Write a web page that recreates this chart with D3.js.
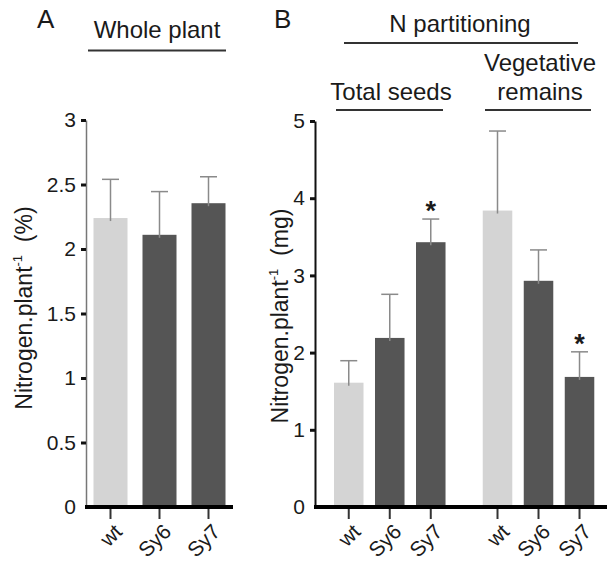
<!DOCTYPE html>
<html><head><meta charset="utf-8">
<script src="https://cdn.jsdelivr.net/npm/d3@7"></script>
<style>
body{margin:0;background:#fff;}
text{font-family:"Liberation Sans",Arial,sans-serif;fill:#1a1a1a;}
</style></head>
<body>
<svg id="chart" width="607" height="565"></svg>
<script>
// ---- data ----
const genotypes = ["wt", "Sy6", "Sy7"];
const wholePlantPct = [2.24, 2.11, 2.355];
const wholePlantErr = [0.30, 0.335, 0.205];
const partGroups = ["Total seeds", "Vegetative remains"];
const seedsMg = [1.61, 2.19, 3.43];
const seedsErr = [0.285, 0.565, 0.30];
const vegMg = [3.84, 2.93, 1.685];
const vegErr = [1.03, 0.40, 0.325];
const seedsSig = [false, false, true];
const vegSig = [false, false, true];
const ticksA = [0, 0.5, 1, 1.5, 2, 2.5, 3];
const ticksB = [0, 1, 2, 3, 4, 5];

const colors = {wt: "#d4d4d4", Sy6: "#555555", Sy7: "#555555"};
const svg = d3.select("#chart");

function drawAxes(g, x0, y, ticks, yAxisColor, yAxisWidth) {
  const ya = g.append("g").attr("transform", `translate(${x0},0)`)
    .call(d3.axisLeft(y).tickValues(ticks).tickSize(5).tickSizeOuter(0).tickPadding(5).tickFormat(d3.format("")));
  ya.attr("font-size", null).attr("font-family", null);
  ya.select(".domain").attr("stroke", yAxisColor).attr("stroke-width", yAxisWidth);
  ya.selectAll(".tick line").attr("stroke", "#111").attr("stroke-width", 3);
  ya.selectAll(".tick text").style("font-size", "21px").attr("fill", "#1a1a1a");
  ya.selectAll(".tick").filter(d => d === 0).select("line").remove();
}

function bars(g, data, err, xpos, bw, y, sig) {
  data.forEach((v, i) => {
    const cx = xpos(i) + bw / 2;
    g.append("rect").attr("x", xpos(i)).attr("width", bw)
      .attr("y", y(v)).attr("height", y(0) - y(v))
      .attr("fill", colors[genotypes[i]]);
    const top = y(v + err[i]);
    g.append("line").attr("x1", cx).attr("x2", cx).attr("y1", y(v) + 3).attr("y2", top)
      .attr("stroke", "#8a8a8a").attr("stroke-width", 1.5);
    g.append("line").attr("x1", cx - 8.5).attr("x2", cx + 8.5).attr("y1", top).attr("y2", top)
      .attr("stroke", "#8a8a8a").attr("stroke-width", 1.5);
    if (sig && sig[i]) {
      g.append("text").attr("x", cx).attr("y", top + 1).attr("text-anchor", "middle")
        .style("font-size", "27px").style("font-weight", "bold").text("*");
    }
  });
}

function xAxis(g, xa, xb, y0, centers) {
  centers.forEach(c => {
    g.append("line").attr("x1", c.x).attr("x2", c.x).attr("y1", y0).attr("y2", y0 + 12)
      .attr("stroke", "#333").attr("stroke-width", 2);
    g.append("text").attr("transform", `translate(${c.x + 13},${y0 + 26}) rotate(-45)`)
      .attr("text-anchor", "end").style("font-size", "21px").text(c.label);
  });
  g.append("line").attr("x1", xa).attr("x2", xb).attr("y1", y0).attr("y2", y0)
    .attr("stroke", "#000").attr("stroke-width", 4);
}

// ---- Panel A ----
const gA = svg.append("g");
const yA = d3.scaleLinear().domain([0, 3]).range([507, 120]);
const xA = d3.scaleBand().domain(genotypes).range([86, 233]).paddingInner(0.306).paddingOuter(0.153);
drawAxes(gA, 86, yA, ticksA, "#777", 1.5);
bars(gA, wholePlantPct, wholePlantErr, i => xA(genotypes[i]), xA.bandwidth(), yA, null);
xAxis(gA, 85, 233, yA(0), genotypes.map(d => ({x: xA(d) + xA.bandwidth() / 2, label: d})));

gA.append("text").attr("transform", "translate(32,308) rotate(-90)").attr("text-anchor", "middle")
  .style("font-size", "23px")
  .html('Nitrogen.plant<tspan dy="-10" style="font-size:13px">-1</tspan><tspan dy="10" xml:space="preserve">  (%)</tspan>');

gA.append("text").attr("x", 37).attr("y", 28).style("font-size", "26px").text("A");
gA.append("text").attr("x", 157).attr("y", 38).attr("text-anchor", "middle").style("font-size", "24px").text("Whole plant");
gA.append("line").attr("x1", 88).attr("x2", 226).attr("y1", 50.5).attr("y2", 50.5).attr("stroke", "#333").attr("stroke-width", 2);

// ---- Panel B ----
const gB = svg.append("g");
const yB = d3.scaleLinear().domain([0, 5]).range([507, 121]);
const x0 = d3.scaleBand().domain(partGroups).range([315, 607]).paddingInner(0.173).paddingOuter(0.068).align(0.655);
const x1 = d3.scaleBand().domain(genotypes).range([0, x0.bandwidth()]).paddingInner(0.28).paddingOuter(0.14);
drawAxes(gB, 315, yB, ticksB, "#111", 2);
bars(gB, seedsMg, seedsErr, i => x0(partGroups[0]) + x1(genotypes[i]), x1.bandwidth(), yB, seedsSig);
bars(gB, vegMg, vegErr, i => x0(partGroups[1]) + x1(genotypes[i]), x1.bandwidth(), yB, vegSig);
const centersB = [];
partGroups.forEach(gp => genotypes.forEach(d => centersB.push({x: x0(gp) + x1(d) + x1.bandwidth() / 2, label: d})));
xAxis(gB, 314, 607, yB(0), centersB);

gB.append("text").attr("transform", "translate(288,316) rotate(-90)").attr("text-anchor", "middle")
  .style("font-size", "23px")
  .html('Nitrogen.plant<tspan dy="-10" style="font-size:13px">-1</tspan><tspan dy="10" xml:space="preserve">  (mg)</tspan>');

gB.append("text").attr("x", 274).attr("y", 28).style("font-size", "26px").text("B");
gB.append("text").attr("x", 460).attr("y", 32).attr("text-anchor", "middle").style("font-size", "24px").text("N partitioning");
gB.append("line").attr("x1", 344).attr("x2", 578).attr("y1", 43).attr("y2", 43).attr("stroke", "#333").attr("stroke-width", 2);
gB.append("text").attr("x", 391).attr("y", 100).attr("text-anchor", "middle").style("font-size", "24px").text("Total seeds");
gB.append("line").attr("x1", 336).attr("x2", 443).attr("y1", 110).attr("y2", 110).attr("stroke", "#333").attr("stroke-width", 2);
gB.append("text").attr("x", 540).attr("y", 71).attr("text-anchor", "middle").style("font-size", "24px").text("Vegetative");
gB.append("text").attr("x", 540).attr("y", 100).attr("text-anchor", "middle").style("font-size", "24px").text("remains");
gB.append("line").attr("x1", 485).attr("x2", 591).attr("y1", 110).attr("y2", 110).attr("stroke", "#333").attr("stroke-width", 2);
</script>
</body></html>
